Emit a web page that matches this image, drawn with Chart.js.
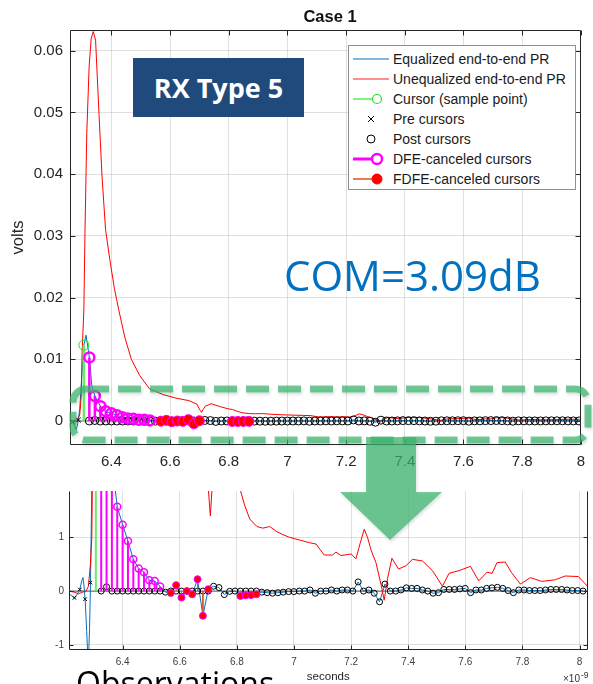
<!DOCTYPE html>
<html lang="en">
<head>
<meta charset="UTF-8">
<title>Case 1 - COM pulse response</title>
<script src="https://cdn.jsdelivr.net/npm/chart.js@4.4.1/dist/chart.umd.min.js"></script>
<style>
  html, body { margin: 0; padding: 0; overflow: hidden; background: #fff; }
  #page { position: relative; width: 593px; height: 684px; overflow: hidden; font-family: 'Liberation Sans', Arial, sans-serif; }
  canvas { position: absolute; left: 0; }
  .abs { position: absolute; white-space: nowrap; }
  #legend { left: 348px; top: 45px; width: 226px; height: 143px; border: 1px solid #8f8f8f; background: #fff; }
  #legend div { position: absolute; left: 44px; height: 20px; line-height: 20px; font-size: 14px; color: #1a1a1a; }
</style>
</head>
<body>
<div id="page">
  <canvas id="topChart" width="593" height="480" style="top:0"></canvas>
  <canvas id="zoomChart" width="593" height="204" style="top:480px"></canvas>

  <div class="abs" style="left:230px;top:8px;width:200px;text-align:center;font-weight:bold;font-size:16.5px;line-height:16px;color:#111">Case 1</div>

  <div class="abs" style="left:133px;top:58px;width:171px;height:59px;background:#204a7c;color:#fff;display:flex;align-items:center;justify-content:center;font-family:'Open Sans';font-weight:700;font-size:27px">RX Type 5</div>

  <div class="abs" style="left:284px;top:254px;font-family:'Open Sans';font-size:42px;line-height:42px;color:#0070c0">COM=3.09dB</div>

  <div id="legend" class="abs">
    <svg width="46" height="143" style="position:absolute;left:0;top:0">
      <line x1="4" y1="13" x2="40" y2="13" stroke="#0072bd" stroke-width="1.2"/>
      <line x1="4" y1="33" x2="40" y2="33" stroke="#ff2020" stroke-width="1.2"/>
      <line x1="4" y1="53" x2="24" y2="53" stroke="#55ee55" stroke-width="1.5"/>
      <circle cx="28" cy="53" r="4.5" fill="none" stroke="#22dd22" stroke-width="1.2"/>
      <path d="M19 70 L25 76 M25 70 L19 76" stroke="#000" stroke-width="1"/>
      <circle cx="22" cy="93" r="4" fill="none" stroke="#000" stroke-width="1"/>
      <line x1="4" y1="113" x2="24" y2="113" stroke="#ff00ff" stroke-width="3"/>
      <circle cx="28" cy="113" r="5" fill="none" stroke="#ff00ff" stroke-width="2.5"/>
      <line x1="4" y1="133" x2="24" y2="133" stroke="#d95319" stroke-width="1.5"/>
      <circle cx="28" cy="133" r="5" fill="#ff0000" stroke="#ff0000" stroke-width="1"/>
    </svg>
    <div style="top:3px">Equalized end-to-end PR</div>
    <div style="top:23px">Unequalized end-to-end PR</div>
    <div style="top:43px">Cursor (sample point)</div>
    <div style="top:63px">Pre cursors</div>
    <div style="top:83px">Post cursors</div>
    <div style="top:103px">DFE-canceled cursors</div>
    <div style="top:123px">FDFE-canceled cursors</div>
  </div>

  <svg class="abs" width="593" height="684" style="left:0;top:0;pointer-events:none">
    <defs>
      <filter id="soft" x="-5%" y="-20%" width="110%" height="150%">
        <feDropShadow dx="1" dy="2" stdDeviation="1.5" flood-color="#000" flood-opacity="0.18"/>
      </filter>
    </defs>
    <rect x="73" y="389" width="515" height="51" rx="13" fill="none" stroke="rgba(60,180,110,0.72)" stroke-width="7" stroke-dasharray="23 9" filter="url(#soft)"/>
    <polygon points="366,437 416,437 416,492 442,492 390,540 340,492 366,492" fill="rgba(60,180,110,0.72)" filter="url(#soft)"/>
  </svg>

  <div class="abs" style="left:563px;top:674px;font-size:10px;line-height:10px;color:#333">&times;10</div>
  <div class="abs" style="left:581px;top:671px;font-size:8.5px;line-height:9px;color:#333">-9</div>

  <div class="abs" style="left:76px;top:667px;font-family:'Open Sans';font-size:32px;line-height:32px;color:#000">Observations</div>
</div>

<script>
    // symbol spacing and cursor sample time, in ns
    const UI_NS = 0.01875;
    const CURSOR_T = 6.306;
    const CURSOR_MV = 12.3;

    // pre cursors k = -4..-1 (mV)
    const preCursorsMV = [-0.127, 0.03, -0.15, 0.157];

    // post cursors k = 1..91 after cancellation (mV)
    const postCursorsMV = [
        0, 0.08, 0, 0, 0, 0, 0, 0, 0, 0, 0, 0, -0.02,
        0, 0, 0, 0, 0, 0, 0, 0,
        0.09, 0.065, -0.065, -0.005, 0,
        0, 0, 0, 0,
        -0.02, -0.03, -0.04, -0.03, -0.02, -0.01, -0.01, 0, 0, 0.02,
        -0.04, 0, 0, 0.02, 0, 0.02, 0.02, 0, 0.17, 0,
        0.02, -0.04, -0.2, 0.13, 0, 0, 0.02, 0.06, 0.05, 0.05,
        0.02, 0, -0.04, -0.03, 0.03, 0.03, 0.03, 0.04, 0.05, -0.03,
        0.02, 0.02, 0.05, 0.06, 0.07, 0.05, 0.01, -0.03, 0.02, 0.02,
        0.01, 0.01, 0.01, 0.02, 0.03, 0.03, 0.03, 0.02, 0.01, 0.01, 0
    ];

    // DFE taps k = 1..12 (mV)
    const dfeMV = [10.3, 4.05, 2.4, 1.57, 1.235, 0.93, 0.59, 0.42, 0.35, 0.20, 0.185, 0.087];

    // floating DFE taps
    const fdfeK = [14, 15, 16, 17, 18, 19, 20, 21, 27, 28, 29, 30];
    const fdfeMV = [-0.035, 0.11, -0.12, 0.0, -0.06, 0.22, -0.46, 0.035, -0.09, -0.08, -0.075, -0.06];

    // unequalized pulse response (ns, mV)
    const unEqT = [6.212, 6.23, 6.245, 6.26, 6.272, 6.28, 6.287, 6.292, 6.297, 6.300, 6.306, 6.310, 6.316, 6.324, 6.331, 6.338,
        6.346, 6.357, 6.368, 6.380, 6.395, 6.41, 6.425, 6.446, 6.468, 6.496, 6.53, 6.575, 6.62, 6.664, 6.692, 6.700, 6.707,
        6.713, 6.72, 6.74, 6.772, 6.80, 6.813, 6.827, 6.845, 6.87, 6.891, 6.915, 6.938, 6.961, 6.984, 7.019, 7.054, 7.077,
        7.106, 7.135, 7.147, 7.165, 7.2, 7.217, 7.231, 7.246, 7.258, 7.27, 7.287, 7.305, 7.316, 7.328, 7.343, 7.366, 7.392,
        7.415, 7.45, 7.485, 7.52, 7.543, 7.578, 7.618, 7.647, 7.676, 7.694, 7.711, 7.74, 7.761, 7.793, 7.828, 7.868, 7.915,
        7.95, 7.996, 8.028];
    const unEqMV = [0, -0.02, -0.05, -0.02, 0, 0.09, 0.5, 1.0, 4.0, 11.0, 18, 31, 46.6, 57.4, 62, 63.1,
        61.7, 50.4, 39.6, 31, 26, 21.5, 18, 13.5, 10, 7.4, 5.2, 4.3, 3.7, 3.3, 2.7, 1.9, 1.4,
        1.9, 2.4, 2.8, 2.3, 1.95, 1.86, 1.6, 1.34, 1.2, 1.17, 1.2, 1.11, 1.05, 1.0, 0.95, 0.90, 0.875,
        0.67, 0.67, 0.725, 0.66, 0.69, 0.6, 0.875, 1.15, 0.99, 0.76, 0.53, 0.12, -0.17, 0.24, 0.61, 0.41, 0.47,
        0.59, 0.56, 0.38, 0.09, 0.33, 0.38, 0.46, 0.19, 0.35, 0.33, 0.53, 0.54, 0.35, 0.13, 0.25, 0.18, 0.21,
        0.28, 0.27, 0.09];

    // equalized pulse response around the main cursor (ns, mV); after that it follows the samples
    const eqHeadT = [6.212, 6.222, 6.231, 6.241, 6.2498, 6.257, 6.261, 6.2645, 6.2685, 6.274, 6.2795, 6.284, 6.2873,
        6.292, 6.298, 6.306, 6.3136, 6.3248, 6.333, 6.3435];
    const eqHeadMV = [-0.05, -0.09, -0.127, -0.06, 0.03, 0.2, 0.25, 0.1, -0.15, -0.75, -1.4, -0.7, 0.157,
        2.0, 6.5, 12.3, 13.9, 10.3, 5.8, 4.05];

    // axis ticks
    const topXTicks = [6.4, 6.6, 6.8, 7, 7.2, 7.4, 7.6, 7.8, 8];
    const topYTicks = [0, 0.01, 0.02, 0.03, 0.04, 0.05, 0.06];
    const zoomXTicks = [6.4, 6.6, 6.8, 7, 7.2, 7.4, 7.6, 7.8, 8];
    const zoomYTicks = [-1, 0, 1];

    const GRID = 'rgba(38,38,38,0.14)';
    const AXIS = '#262626';
    Chart.defaults.font.family = "'Liberation Sans', Arial, sans-serif";

    // matlab style box with inward ticks
    const axesBox = {
        id: 'axesBox',
        afterDraw(chart, args, o) {
            const { ctx, chartArea: a, scales: { x, y } } = chart;
            const L = Math.round(a.left) + 0.5, R = Math.round(a.right) - 0.5;
            const T = Math.round(a.top) + 0.5, B = Math.round(a.bottom) - 0.5;
            ctx.save();
            ctx.strokeStyle = AXIS;
            ctx.lineWidth = 1;
            ctx.beginPath();
            if (o.top) { ctx.moveTo(L, T); ctx.lineTo(R, T); }
            ctx.moveTo(L, T); ctx.lineTo(L, B); ctx.lineTo(R, B); ctx.lineTo(R, T);
            x.ticks.forEach(t => {
                const px = Math.round(x.getPixelForValue(t.value)) + 0.5;
                ctx.moveTo(px, B); ctx.lineTo(px, B - o.len);
                if (o.top) { ctx.moveTo(px, T); ctx.lineTo(px, T + o.len); }
            });
            y.ticks.forEach(t => {
                const py = Math.round(y.getPixelForValue(t.value)) + 0.5;
                ctx.moveTo(L, py); ctx.lineTo(L + o.len, py);
                ctx.moveTo(R, py); ctx.lineTo(R - o.len, py);
            });
            ctx.stroke();
            ctx.restore();
        }
    };

    function makeDatasets(f, s) {
        const t = k => CURSOR_T + k * UI_NS;
        const pts = (ks, vs) => ks.map((k, i) => ({ x: t(k), y: vs[i] * f }));
        const stems = (ks, vs) => ks.flatMap((k, i) => [{ x: t(k), y: 0 }, { x: t(k), y: vs[i] * f }, { x: t(k), y: null }]);
        const dfeK = dfeMV.map((_, i) => i + 1);
        const preK = preCursorsMV.map((_, i) => i - preCursorsMV.length);
        const postK = postCursorsMV.map((_, i) => i + 1);

        // equalized line: measured head, then the sample values
        const eq = eqHeadT.map((x, i) => ({ x, y: eqHeadMV[i] * f }));
        postK.forEach(k => {
            if (k < 3) return;
            let v = postCursorsMV[k - 1];
            if (dfeK.includes(k)) v = dfeMV[dfeK.indexOf(k)];
            if (fdfeK.includes(k)) v = fdfeMV[fdfeK.indexOf(k)];
            eq.push({ x: t(k), y: v * f });
        });

        return [
            { data: pts(fdfeK, fdfeMV), pointRadius: s.big, backgroundColor: '#ff0000', borderColor: '#ff00ff', borderWidth: 1, order: 0 },
            { data: pts(dfeK, dfeMV), pointRadius: s.big, backgroundColor: 'rgba(0,0,0,0)', borderColor: '#ff00ff', borderWidth: s.dfeW, order: 1 },
            { data: stems(dfeK, dfeMV), showLine: true, pointRadius: 0, borderColor: '#ff00ff', borderWidth: s.stemW, order: 2 },
            { data: stems(fdfeK, fdfeMV), showLine: true, pointRadius: 0, borderColor: '#d95319', borderWidth: 1, order: 3 },
            { data: pts(postK, postCursorsMV), pointRadius: s.post, backgroundColor: 'rgba(0,0,0,0)', borderColor: '#000', borderWidth: 1, order: 4 },
            { data: pts(preK, preCursorsMV), pointStyle: 'crossRot', pointRadius: s.pre, borderColor: '#000', borderWidth: 1, order: 5 },
            { data: [{ x: t(0), y: CURSOR_MV * f }], pointRadius: s.big, backgroundColor: 'rgba(0,0,0,0)', borderColor: '#22dd22', borderWidth: 1, order: 6 },
            { data: stems([0], [CURSOR_MV]), showLine: true, pointRadius: 0, borderColor: '#66ee66', borderWidth: s.stemW, order: 7 },
            { data: unEqT.map((x, i) => ({ x, y: unEqMV[i] * f })), showLine: true, pointRadius: 0, borderColor: '#ff0000', borderWidth: 1, order: 8 },
            { data: eq, showLine: true, pointRadius: 0, borderColor: '#0072bd', borderWidth: 1, order: 9 },
            { data: [{ x: 6.0, y: 0 }, { x: 8.2, y: 0 }], showLine: true, pointRadius: 0, borderColor: '#555', borderWidth: 1, order: 10 }
        ];
    }

    const fmt = d => v => Number(v.toFixed(d)).toString();

    // full view, volts
    new Chart(document.getElementById('topChart'), {
        type: 'scatter',
        data: { datasets: makeDatasets(1e-3, { big: 5, post: 4, pre: 3.5, dfeW: 2.5, stemW: 2.5 }) },
        plugins: [axesBox],
        options: {
            responsive: false, animation: false, events: [],
            layout: { padding: { left: 0, right: 5, top: 30, bottom: 0 } },
            plugins: { legend: { display: false }, tooltip: { enabled: false }, axesBox: { top: true, len: 5 } },
            scales: {
                x: {
                    type: 'linear', min: 6.2588, max: 8.0,
                    grid: { color: GRID, drawTicks: false }, border: { display: false },
                    ticks: { color: AXIS, font: { size: 15 }, padding: 8, callback: fmt(1) },
                    afterBuildTicks: s => { s.ticks = topXTicks.map(v => ({ value: v })); },
                    afterFit: s => { s.height = 35; }
                },
                y: {
                    min: -0.00389, max: 0.06335,
                    grid: { color: GRID, drawTicks: false }, border: { display: false },
                    ticks: { color: AXIS, font: { size: 15 }, padding: 7, callback: fmt(2) },
                    title: { display: true, text: 'volts', color: AXIS, font: { size: 16.5 }, padding: { top: 9, bottom: 0 } },
                    afterBuildTicks: s => { s.ticks = topYTicks.map(v => ({ value: v })); },
                    afterFit: s => { s.width = 70; }
                }
            }
        }
    });

    // zoomed view, millivolts
    new Chart(document.getElementById('zoomChart'), {
        type: 'scatter',
        data: { datasets: makeDatasets(1, { big: 3.5, post: 3, pre: 2.5, dfeW: 1.5, stemW: 2 }) },
        plugins: [axesBox],
        options: {
            responsive: false, animation: false, events: [],
            layout: { padding: { left: 0, right: 5, top: 0, bottom: 0 } },
            plugins: { legend: { display: false }, tooltip: { enabled: false }, axesBox: { top: false, len: 4 } },
            scales: {
                x: {
                    type: 'linear', min: 6.212, max: 8.028,
                    grid: { color: GRID, drawTicks: false }, border: { display: false },
                    ticks: { color: '#404040', font: { size: 10 }, padding: 6, callback: fmt(1) },
                    title: { display: true, text: 'seconds', color: AXIS, font: { size: 11.5 }, padding: { top: 0, bottom: 0 } },
                    afterBuildTicks: s => { s.ticks = zoomXTicks.map(v => ({ value: v })); },
                    afterFit: s => { s.height = 34; }
                },
                y: {
                    min: -1.096, max: 1.861,
                    grid: { color: GRID, drawTicks: false }, border: { display: false },
                    ticks: { color: '#404040', font: { size: 10 }, padding: 5, callback: fmt(0) },
                    afterBuildTicks: s => { s.ticks = zoomYTicks.map(v => ({ value: v })); },
                    afterFit: s => { s.width = 69; }
                }
            }
        }
    });
</script>
</body>
</html>
